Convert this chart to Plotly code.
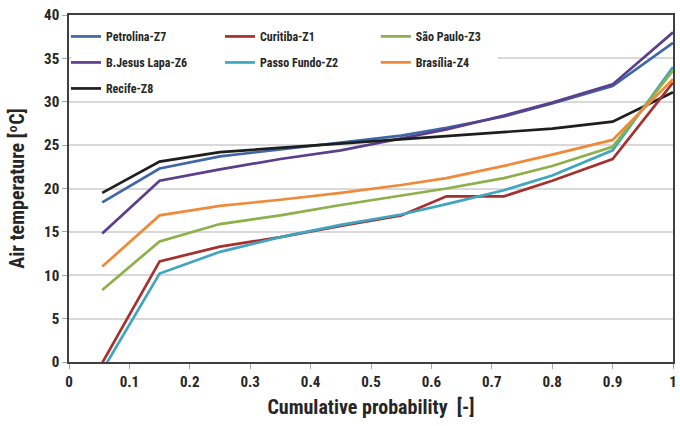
import plotly.graph_objects as go

# Cumulative probability grid shared by all climate zones
prob = [0.055, 0.15, 0.25, 0.35, 0.45, 0.55, 0.625, 0.72, 0.8, 0.9, 1.0]

# Air temperature [ºC] per city / bioclimatic zone
petrolina = [18.4, 22.3, 23.7, 24.5, 25.3, 26.1, 27.0, 28.3, 29.8, 31.8, 36.8]
curitiba = [-0.1, 11.6, 13.3, 14.4, 15.7, 16.9, 19.1, 19.1, 20.9, 23.4, 32.2]
sao_paulo = [8.3, 13.9, 15.9, 16.9, 18.1, 19.2, 20.0, 21.2, 22.6, 24.8, 33.6]
bjesus_lapa = [14.8, 20.9, 22.2, 23.4, 24.4, 25.8, 26.8, 28.4, 29.9, 32.0, 38.0]
passo_fundo = [-1.0, 10.2, 12.7, 14.4, 15.8, 17.0, 18.2, 19.8, 21.5, 24.4, 34.0]
brasilia = [11.0, 16.9, 18.0, 18.7, 19.5, 20.4, 21.2, 22.6, 23.9, 25.6, 32.6]
recife = [19.5, 23.1, 24.2, 24.7, 25.2, 25.7, 26.0, 26.5, 26.9, 27.7, 31.1]

x_ticks = [0, 0.1, 0.2, 0.3, 0.4, 0.5, 0.6, 0.7, 0.8, 0.9, 1]
y_ticks = [0, 5, 10, 15, 20, 25, 30, 35, 40]

FONT = "Liberation Sans Narrow, Roboto Condensed, Roboto, sans-serif"
TXT = "#262626"

# (name, values, colour, legend column)
series = [
    ("Petrolina-Z7", petrolina, "#3F67A6", "legend"),
    ("B.Jesus Lapa-Z6", bjesus_lapa, "#5B3F8C", "legend"),
    ("Recife-Z8", recife, "#1E1E1E", "legend"),
    ("Curitiba-Z1", curitiba, "#A6302E", "legend2"),
    ("Passo Fundo-Z2", passo_fundo, "#3FA5C0", "legend2"),
    ("São Paulo-Z3", sao_paulo, "#8CB04A", "legend3"),
    ("Brasília-Z4", brasilia, "#EF8A3A", "legend3"),
]

fig = go.Figure()
for name, vals, col, leg in series:
    fig.add_trace(go.Scatter(
        x=prob, y=vals, mode="lines", name=name,
        line=dict(color=col, width=2.7),
        legend=leg, legendgroup=name,
    ))

legend_style = dict(
    orientation="v", xanchor="left", yanchor="top", y=0.98,
    bgcolor="rgba(255,255,255,0)", borderwidth=0,
    font=dict(family=FONT, size=12, color=TXT, weight="bold"),
    tracegroupgap=7, itemwidth=30,
)

# white panel behind the legend block, above the gridlines
legend_panel = dict(
    type="rect", xref="x", yref="y",
    x0=0.004, x1=0.71, y0=30.6, y1=39.8,
    fillcolor="white", line=dict(width=0), layer="between",
)

fig.update_layout(
    width=680, height=426,
    margin=dict(l=69, r=3, t=15, b=64),
    paper_bgcolor="white", plot_bgcolor="white",
    font=dict(family=FONT, color=TXT),
    legend=dict(x=-0.005, **legend_style),
    legend2=dict(x=0.25, **legend_style),
    legend3=dict(x=0.508, **legend_style),
    shapes=[legend_panel],
)

fig.update_xaxes(
    range=[0, 1], tickvals=x_ticks, ticktext=[f"{v:g}" for v in x_ticks],
    showgrid=False, zeroline=False, ticklabeloverflow="allow",
    showline=True, linecolor="#404040", linewidth=1.5, mirror=True,
    ticks="outside", ticklen=5, tickcolor="#A6A6A6",
    tickfont=dict(family=FONT, size=15, color=TXT, weight="bold"),
    title=dict(text="Cumulative probability  [-]", standoff=10,
               font=dict(family=FONT, size=20, color=TXT, weight="bold")),
)
fig.update_yaxes(
    range=[0, 40], tickvals=y_ticks,
    showgrid=True, gridcolor="#D9D9D9", gridwidth=2, zeroline=False,
    showline=True, linecolor="#404040", linewidth=1.5, mirror=True,
    ticks="outside", ticklen=5, tickcolor="#A6A6A6",
    tickfont=dict(family=FONT, size=15, color=TXT, weight="bold"),
    title=dict(text="Air temperature [ºC]", standoff=14,
               font=dict(family=FONT, size=20, color=TXT, weight="bold")),
)

fig.write_html("out.html")
